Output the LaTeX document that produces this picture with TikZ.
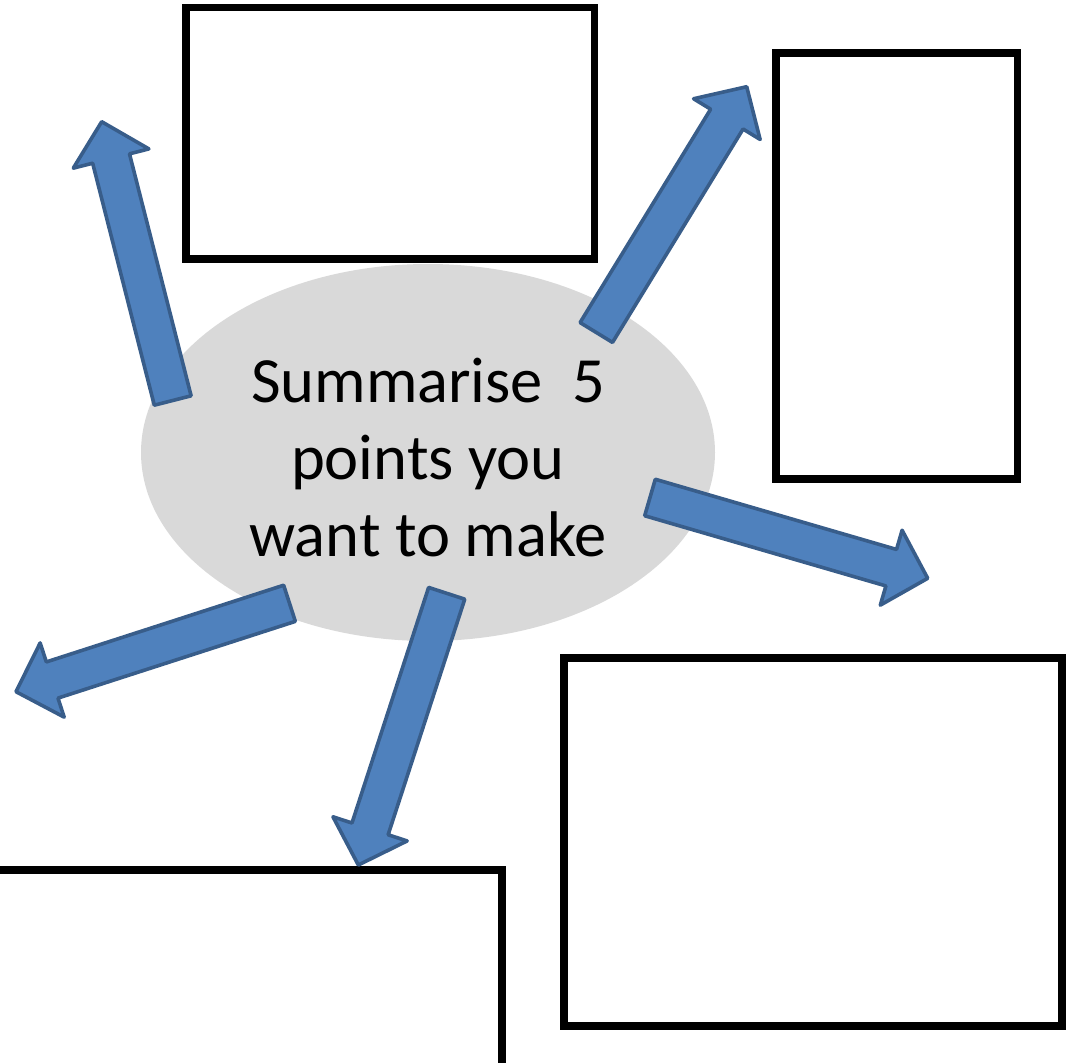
\documentclass[tikz,border=0pt]{standalone}
\usepackage{fontspec}
\setmainfont{Carlito}
\usetikzlibrary{calc}
\definecolor{ellfill}{HTML}{D9D9D9}
\definecolor{arrfill}{HTML}{4F81BD}
\definecolor{arrline}{HTML}{385D8A}
\tikzset{
  answerbox/.style={draw=black, line width=7.5pt},
  blockarr/.style={fill=arrfill, draw=arrline, line width=3.6pt, line join=round},
}
% #1 = base coordinate name, #2 = tip coordinate name
\newcommand\blockarrow[2]{%
  \coordinate (#1h) at ($(#2)!38pt!(#1)$);
  \draw[blockarr]
    ($(#1)!19pt!90:(#2)$) -- ($(#1h)!19pt!90:(#2)$) -- ($(#1h)!39pt!90:(#2)$)
    -- (#2)
    -- ($(#1h)!39pt!-90:(#2)$) -- ($(#1h)!19pt!-90:(#2)$) -- ($(#1)!19pt!-90:(#2)$)
    -- cycle;
}
\begin{document}
\begin{tikzpicture}[x=1pt, y=-1pt]
\useasboundingbox (0,0) rectangle (1074,1063);
% central topic
\fill[ellfill] (428,452.5) ellipse [x radius=287, y radius=188.5];
\node[inner sep=0pt, align=center, font=\fontsize{64.5}{77}\selectfont] (topic) at (428,458)
  {Summarise~~5\\points you\\want to make};
% answer boxes
\draw[answerbox] (186,7.5) rectangle (594.5,259);
\draw[answerbox] (776,53) rectangle (1017.5,479);
\draw[answerbox] (564,658) rectangle (1062,1026);
\draw[answerbox] (-20,870) rectangle (502,1090);
% arrow end points
\coordinate (b1) at (172.7,400.5); \coordinate (t1) at (101.7,121.7);
\coordinate (b2) at (596.3,332.5); \coordinate (t2) at (746.7,86.7);
\coordinate (b3) at (650,497.5);   \coordinate (t3) at (927.7,578.3);
\coordinate (b4) at (289.5,603.3); \coordinate (t4) at (16,691.7);
\coordinate (b5) at (446.7,593.3); \coordinate (t5) at (358.3,865);
\blockarrow{b1}{t1}
\blockarrow{b2}{t2}
\blockarrow{b3}{t3}
\blockarrow{b4}{t4}
\blockarrow{b5}{t5}
\end{tikzpicture}
\end{document}
